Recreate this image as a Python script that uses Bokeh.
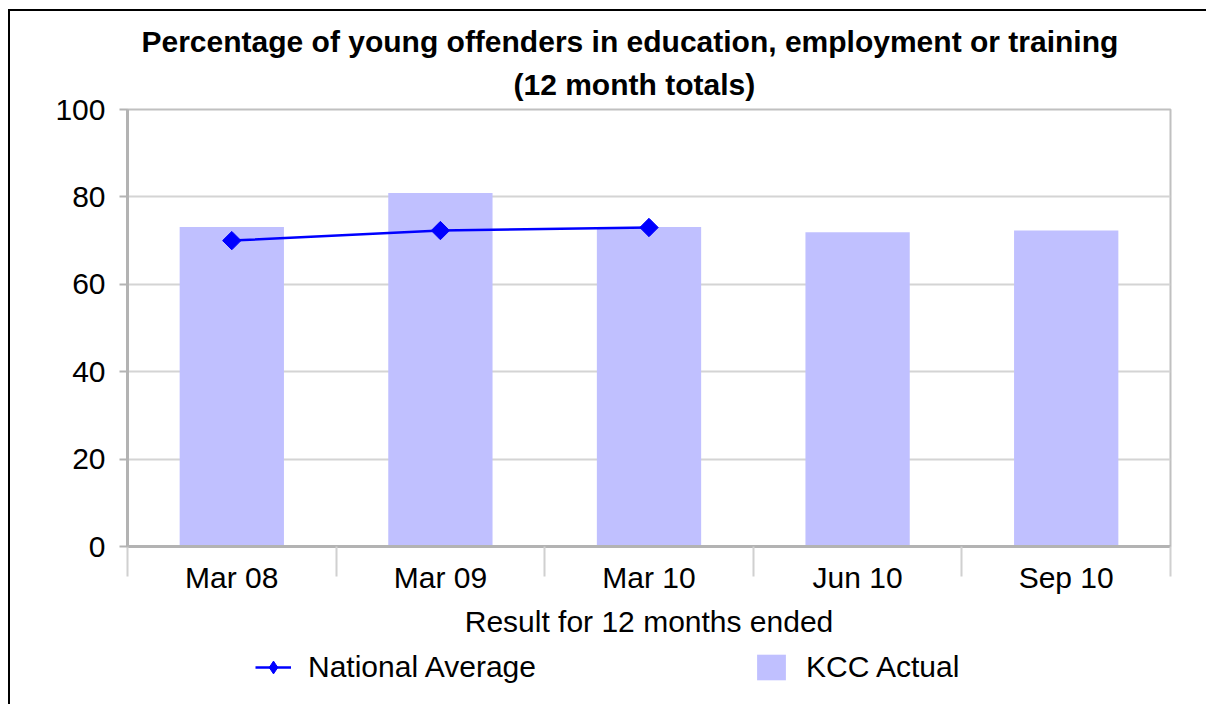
import math
from bokeh.plotting import figure
from bokeh.layouts import column
from bokeh.models import FixedTicker, Legend, LegendItem, Title, Range1d
from bokeh.embed import file_html
from bokeh.resources import INLINE

categories = ["Mar 08", "Mar 09", "Mar 10", "Jun 10", "Sep 10"]
kcc_actual = [73.1, 80.9, 73.1, 71.9, 72.3]
national_average = [70.0, 72.3, 73.0]
y_ticks = [0, 20, 40, 60, 80, 100]

FONT = "Liberation Sans"
FS = "30px"
W = 1196
H1, H2 = 640, 53
xc = [i + 0.5 for i in range(len(categories))]
xn = xc[:len(national_average)]

BAR_COLOR = "#C0C0FF"
LINE_COLOR = "#0000FF"

p = figure(width=W, height=H1, x_range=Range1d(0, len(categories)),
           y_range=Range1d(0, 100), output_backend="svg", toolbar_location=None,
           min_border_left=117, min_border_right=36, min_border_top=98,
           min_border_bottom=105)
p.background_fill_color = "white"
p.border_fill_color = "white"
p.outline_line_color = "#c0c0c0"
p.outline_line_width = 2

# Titles
t2 = Title(text="(12 month totals)", align="left", offset=386, text_font=FONT,
           text_font_size=FS, text_font_style="bold", text_color="black",
           standoff=17)
t1 = Title(text="Percentage of young offenders in education, employment or training",
           align="left", offset=14, text_font=FONT, text_font_size=FS,
           text_font_style="bold", text_color="black", standoff=0)
p.add_layout(t2, "above")
p.add_layout(t1, "above")
p.title.visible = False

bars = p.vbar(x=xc, top=kcc_actual, width=0.5, bottom=0, fill_color=BAR_COLOR,
              line_color=None)
line = p.line(x=xn, y=national_average, line_color=LINE_COLOR, line_width=2.5)
pts = p.scatter(x=xn, y=national_average, marker="square", angle=math.pi / 4,
                size=13, fill_color=LINE_COLOR, line_color=LINE_COLOR)

# Y axis
yax = p.yaxis[0]
yax.ticker = FixedTicker(ticks=y_ticks, minor_ticks=[])
yax.axis_line_color = "#b3b3b3"
yax.axis_line_width = 3
yax.major_tick_line_color = "#b3b3b3"
yax.major_tick_line_width = 2
yax.major_tick_out = 8
yax.major_tick_in = 0
yax.minor_tick_line_color = None
yax.major_label_text_font = FONT
yax.major_label_text_font_size = FS
yax.major_label_text_color = "black"
yax.major_label_standoff = 14

# X axis
xax = p.xaxis[0]
xax.ticker = FixedTicker(ticks=xc, minor_ticks=list(range(len(categories) + 1)))
xax.major_label_overrides = {v: c for v, c in zip(xc, categories)}
xax.axis_line_color = "#b3b3b3"
xax.axis_line_width = 3
xax.major_tick_line_color = None
xax.minor_tick_line_color = "#d0d0d0"
xax.minor_tick_line_width = 2
xax.minor_tick_out = 30
xax.minor_tick_in = 0
xax.major_label_text_font = FONT
xax.major_label_text_font_size = FS
xax.major_label_text_color = "black"
xax.major_label_standoff = -16
xax.axis_label = "Result for 12 months ended"
xax.axis_label_text_font = FONT
xax.axis_label_text_font_size = FS
xax.axis_label_text_font_style = "normal"
xax.axis_label_text_color = "black"
xax.axis_label_standoff = 8

p.xgrid.grid_line_color = None
p.ygrid.ticker = FixedTicker(ticks=y_ticks)
p.ygrid.grid_line_color = "#d4d4d4"
p.ygrid.grid_line_width = 2

# Legend strip: key renderers use the same series, but lie outside its view
lg = figure(width=W, height=H2, x_range=Range1d(100, 101), y_range=Range1d(100, 101),
            output_backend="svg", toolbar_location=None,
            x_axis_location=None, y_axis_location=None,
            min_border_left=117, min_border_right=36, min_border_top=0,
            min_border_bottom=0)
lg.grid.visible = False
lg.outline_line_color = None
lg.outline_line_alpha = 0
lg.background_fill_color = "white"
lg.border_fill_color = "white"
k_line = lg.line(x=xn, y=national_average, line_color=LINE_COLOR, line_width=2.5)
k_pts = lg.scatter(x=xn, y=national_average, marker="diamond", size=22,
                   fill_color=LINE_COLOR, line_color=LINE_COLOR)
k_bar = lg.vbar(x=xc, top=kcc_actual, width=0.5, fill_color=BAR_COLOR,
                line_color=None)

legend = Legend(items=[LegendItem(label="National Average", renderers=[k_line, k_pts]),
                       LegendItem(label="KCC Actual", renderers=[k_bar])],
                orientation="horizontal", location=(128, 20),
                label_text_font=FONT, label_text_font_size=FS,
                label_text_color="black", glyph_width=36, glyph_height=32,
                label_standoff=17, spacing=217, border_line_color=None,
                background_fill_alpha=0, padding=0, margin=0)
lg.add_layout(legend)

layout = column(p, lg, spacing=0)
layout.styles = {"border-top": "2px solid black", "border-left": "2px solid black",
                 "margin-left": "8px", "margin-top": "9px"}

open("out.html", "w").write(file_html(layout, INLINE))
